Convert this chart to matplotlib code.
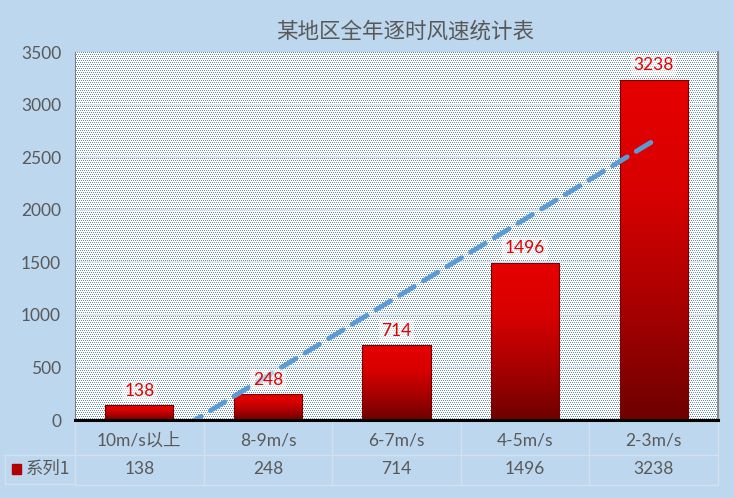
import numpy as np
import matplotlib.pyplot as plt
from matplotlib.colors import LinearSegmentedColormap

plt.rcParams['font.family'] = ['Lato', 'Noto Sans CJK SC', 'DejaVu Sans']

categories = ['10m/s以上', '8-9m/s', '6-7m/s', '4-5m/s', '2-3m/s']
values = [138, 248, 714, 1496, 3238]
series_name = '系列1'
yticks = [0, 500, 1000, 1500, 2000, 2500, 3000, 3500]
title = '某地区全年逐时风速统计表'

bg = '#BDD7EE'
txt = '#595959'
grid_c = '#D6E3F0'

fig = plt.figure(figsize=(7.34, 4.98), dpi=100, facecolor=bg)
ax = fig.add_axes([75/734, 1-420/498, 643/734, 368/498])

# dotted plot-area fill
h, w = 368, 643
pat = np.ones((h, w, 3))
dot = np.array([106, 143, 168]) / 255
for r in range(0, h, 2):
    off = (r // 2) % 2
    pat[r, off::2] = dot
ax.imshow(pat, extent=[0, 1, 0, 1], transform=ax.transAxes, aspect='auto',
          interpolation='nearest', zorder=0)

x = np.arange(1, len(values) + 1)

for yv in yticks[1:-1]:
    ax.axhline(yv, color=grid_c, lw=1.2, zorder=1)

# bars with vertical red gradient
cmap = LinearSegmentedColormap.from_list('redg', ['#6E0000', '#A80000', '#D80000', '#E60000'])
grad = np.linspace(0, 1, 256).reshape(-1, 1)
bars = ax.bar(x, values, width=0.53, color='none', edgecolor='#7A0000', lw=0.8, zorder=3)
for b in bars:
    x0, y0 = b.get_x(), b.get_y()
    bw, bh = b.get_width(), b.get_height()
    im = ax.imshow(grad, cmap=cmap, origin='lower', aspect='auto',
                   extent=[x0, x0 + bw, y0, y0 + bh], zorder=2)
    im.set_clip_path(b)
    ax.text(b.get_x() + bw / 2, bh + 60, f'{int(bh)}', ha='center', va='bottom',
            color='#E00000', fontsize=12.5, zorder=5,
            bbox=dict(boxstyle='square,pad=0.15', fc='white', ec='none', alpha=0.55))
ax.set_xlim(0.5, len(values) + 0.5)
ax.set_ylim(0, 3500)

# linear trendline
k, c = np.polyfit(x, values, 1)
ax.plot(x, k * x + c, color='#5B9BD5', lw=3.5, ls=(0, (3.5, 2.2)), zorder=4,
        solid_capstyle='round', dash_capstyle='round')

ax.set_yticks(yticks)
ax.set_yticklabels([str(v) for v in yticks], color=txt, fontsize=12.5)
ax.tick_params(axis='y', length=0, pad=10)
ax.set_xticks([])
ax.spines['top'].set_visible(False)
ax.spines['left'].set_color('#7F7F7F')
ax.spines['left'].set_linewidth(0.8)
ax.spines['right'].set_color('#8C8C8C')
ax.spines['right'].set_linewidth(1.5)
ax.spines['bottom'].set_color('black')
ax.spines['bottom'].set_linewidth(2.2)
ax.spines['bottom'].set_zorder(6)

fig.text(405/734, 1-32/498, title, ha='center', va='center', fontsize=15.5,
         color=txt, family=['Noto Sans CJK SC', 'DejaVu Sans'])

# data table
line_c = '#D3E1EE'
tr = ax.get_xaxis_transform()
row1, bottom = -35/368, -64.5/368
for i, cat in enumerate(categories):
    ax.text(x[i], -20/368, cat, transform=tr, ha='center', va='center',
            color=txt, fontsize=12.5, clip_on=False)
    ax.text(x[i], -49/368, str(values[i]), transform=tr, ha='center', va='center',
            color=txt, fontsize=12.5, clip_on=False)
for xv in np.arange(0.5, len(values) + 1):
    ax.plot([xv, xv], [0, bottom], transform=tr, color=line_c, lw=1, clip_on=False, zorder=1)
ax.plot([0.5, len(values) + 0.5], [row1, row1], transform=tr, color=line_c, lw=1, clip_on=False)
ax.plot([0.5, len(values) + 0.5], [bottom, bottom], transform=tr, color=line_c, lw=1, clip_on=False)
fig.add_artist(plt.Line2D([5/734, 75/734], [1-455/498, 1-455/498], color=line_c, lw=1))
fig.add_artist(plt.Line2D([5/734, 75/734], [1-484/498, 1-484/498], color=line_c, lw=1))
fig.add_artist(plt.Line2D([5/734, 5/734], [1-455/498, 1-484/498], color=line_c, lw=1))
fig.add_artist(plt.Rectangle((12/734, 1-474/498), 9/734, 10/498, color='#B00000'))
fig.text(26/734, 1-469/498, series_name, ha='left', va='center', color=txt, fontsize=12.5,
         family=['Noto Sans CJK SC', 'DejaVu Sans'])

fig.savefig('out.png', dpi=100, facecolor=bg)
